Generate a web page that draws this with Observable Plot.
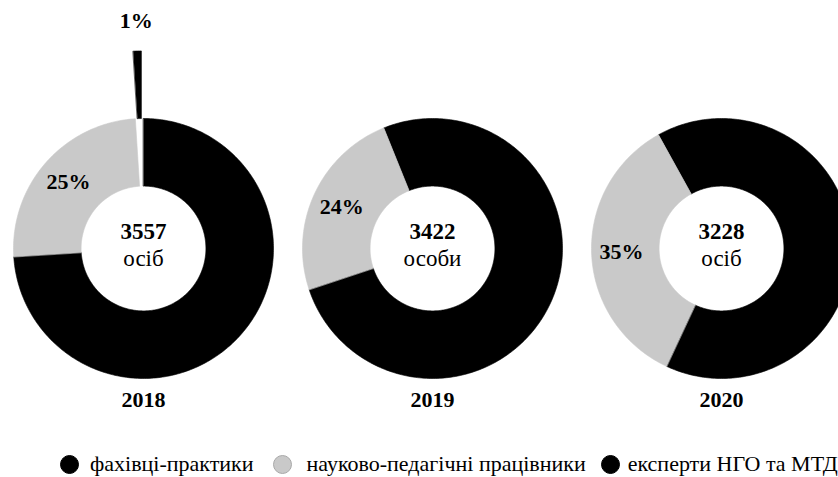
<!DOCTYPE html>
<html>
<head>
<meta charset="utf-8">
<script src="https://cdn.jsdelivr.net/npm/d3@7"></script>
<script src="https://cdn.jsdelivr.net/npm/@observablehq/plot@0.6"></script>
<style>
  html, body { margin: 0; padding: 0; background: #fff; overflow: hidden; }
  #wrap { position: relative; width: 838px; height: 477px; overflow: hidden; font-family: 'Liberation Serif', serif; }
  #wrap svg { overflow: visible; }
  .legend { position: absolute; left: 0; top: 452px; height: 24px; display: flex; align-items: center; font-family: 'Liberation Serif', serif; font-size: 22px; color: #000; white-space: nowrap; }
  .legend .item { display: flex; align-items: center; }
  .legend .sw { width: 19px; height: 19px; border-radius: 50%; box-sizing: border-box; flex: none; }
</style>
</head>
<body>
<div id="wrap"></div>
<script>
// ---- data ----
const years = ["2018", "2019", "2020"];
const categories = ["фахівці-практики", "науково-педагічні працівники", "експерти НГО та МТД"];
const practitioners = [74, 76, 65];   // %
const academics = [25, 24, 35];       // %
const ngoExperts = [1, 0, 0];         // %
const totals = [3557, 3422, 3228];
const units = ["осіб", "особи", "осіб"];

// ---- chart options (styling) ----
const FONT = "'Liberation Serif', serif";
const firstSliceAngle = [0, -22, -29];        // degrees, per chart
const colors = ["#000000", "#c9c9c9", "#000000"];
const legendStroke = ["#000000", "#a9a9a9", "#000000"];
const explodeBy = [0, 0, 0.52];
const showLabel = [false, true, true];
const holeRatio = 0.48;

// ---- build slice polygons with d3.pie ----
const rows = years.map((year, i) => ({
  year, total: totals[i], unit: units[i], rot: firstSliceAngle[i] * Math.PI / 180,
  values: [practitioners[i], academics[i], ngoExperts[i]]
}));
const points = [];
const labels = [];
rows.forEach(r => {
  const pie = d3.pie().sort(null).startAngle(r.rot).endAngle(r.rot + 2 * Math.PI);
  pie(r.values).forEach((a, k) => {
    if (a.value <= 0) return;
    const id = r.year + "-" + k;
    const mid = (a.startAngle + a.endAngle) / 2;
    const e = explodeBy[k];
    const ox = Math.sin(mid) * e, oy = Math.cos(mid) * e;
    const n = Math.max(2, Math.ceil((a.endAngle - a.startAngle) / (Math.PI / 180)));
    for (let j = 0; j <= n; j++) {
      const t = a.startAngle + (a.endAngle - a.startAngle) * j / n;
      points.push({id, year: r.year, category: categories[k], x: ox + Math.sin(t), y: oy + Math.cos(t)});
    }
    for (let j = n; j >= 0; j--) {
      const t = a.startAngle + (a.endAngle - a.startAngle) * j / n;
      points.push({id, year: r.year, category: categories[k], x: ox + holeRatio * Math.sin(t), y: oy + holeRatio * Math.cos(t)});
    }
    if (showLabel[k]) {
      const lr = e > 0 ? 1 + e + 0.23 : (1 + holeRatio) / 2 + 0.03;
      labels.push({year: r.year, x: Math.sin(mid) * lr, y: Math.cos(mid) * lr, text: a.value + "%"});
    }
  });
});

const txt = {fontFamily: FONT, fill: "#000"};

const plot = Plot.plot({
  width: 838,
  height: 440,
  marginLeft: 12.5,
  marginRight: -13,
  marginTop: 0,
  marginBottom: 45,
  style: {fontFamily: FONT, background: "white", overflow: "visible"},
  fx: {domain: years, paddingInner: 0.1011, paddingOuter: 0, axis: null},
  x: {domain: [-1, 1], axis: null},
  y: {domain: [-1.1308, 1.9077], axis: null},
  color: {domain: categories, range: colors},
  marks: [
    Plot.line(points, {fx: "year", x: "x", y: "y", z: "id", fill: "category", stroke: "category", strokeWidth: 0.6, curve: "linear-closed"}),
    Plot.text(labels, {...txt, fx: "year", x: "x", y: "y", text: "text", fontSize: 22, fontWeight: "bold"}),
    Plot.text(rows, {...txt, fx: "year", x: () => 0, y: () => 0, text: d => String(d.total), dy: -17, fontSize: 23, fontWeight: "bold"}),
    Plot.text(rows, {...txt, fx: "year", x: () => 0, y: () => 0, text: "unit", dy: 10, fontSize: 23}),
    Plot.text(rows, {...txt, fx: "year", text: "year", frameAnchor: "bottom", dy: 11, fontSize: 22, fontWeight: "bold"})
  ]
});

const wrap = document.getElementById("wrap");
wrap.appendChild(plot);

// ---- legend (HTML, below the SVG) ----
const legend = document.createElement("div");
legend.className = "legend";
const gapBefore = [59.5, 19.5, 15.5];
const gapAfter = [11.5, 14.5, 7.5];
categories.forEach((c, k) => {
  const item = document.createElement("div");
  item.className = "item";
  item.style.marginLeft = gapBefore[k] + "px";
  const sw = document.createElement("span");
  sw.className = "sw";
  sw.style.background = colors[k];
  sw.style.border = "1px solid " + legendStroke[k];
  sw.style.marginRight = gapAfter[k] + "px";
  const tx = document.createElement("span");
  tx.textContent = c;
  tx.style.fontFamily = FONT;
  item.appendChild(sw);
  item.appendChild(tx);
  legend.appendChild(item);
});
wrap.appendChild(legend);
</script>
</body>
</html>
